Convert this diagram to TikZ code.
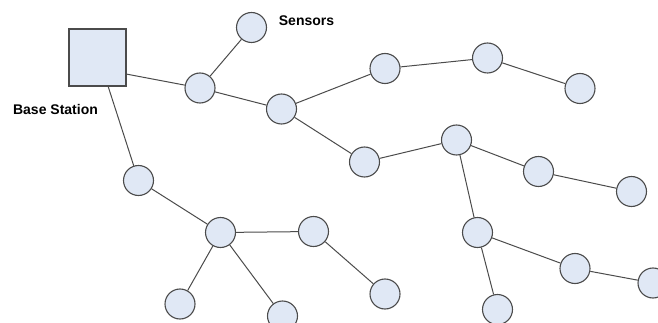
\documentclass[tikz,border=0pt]{standalone}
\usepackage{fontspec}
\setmainfont{Liberation Sans}
\definecolor{nodefill}{RGB}{224,232,245}
\definecolor{edgecol}{RGB}{75,75,75}
\begin{document}
\begin{tikzpicture}[x=1pt,y=-1pt,
  sensor/.style={circle,draw=edgecol,fill=nodefill,line width=1.1pt,minimum size=30pt,inner sep=0pt},
  basebox/.style={rectangle,draw=edgecol,fill=nodefill,line width=1.1pt,minimum size=57pt,inner sep=0pt},
  link/.style={draw=edgecol,line width=1pt},
  lbl/.style={font=\bfseries\fontsize{14}{16}\selectfont,inner sep=0pt}]
\useasboundingbox (0,0) rectangle (658,323);
\clip (0,0) rectangle (658,323);
\node[basebox] (bs) at (97.5,57.5) {};
\coordinate (bsE) at (126,74);
\coordinate (bsS) at (108,86);
\node[lbl] (bslbl) at (55.5,109) {Base Station};
\node[lbl] (senslbl) at (306.5,21) {Sensors};
\node[sensor] (s0) at (251.5,27.5) {};
\node[sensor] (n1) at (200,88) {};
\node[sensor] (n2) at (281.5,109) {};
\node[sensor] (n4) at (385,68.5) {};
\node[sensor] (n5) at (487.5,58) {};
\node[sensor] (n6) at (580,88.5) {};
\node[sensor] (n7) at (364.5,162) {};
\node[sensor] (n8) at (456.5,140) {};
\node[sensor] (n9) at (538.5,171.5) {};
\node[sensor] (n10) at (631.5,191.5) {};
\node[sensor] (n11) at (477.5,232.5) {};
\node[sensor] (n12) at (575,268.5) {};
\node[sensor] (n13) at (653,283) {};
\node[sensor] (n14) at (497.5,309.5) {};
\node[sensor] (n15) at (385,294) {};
\node[sensor] (n16) at (138.5,180.5) {};
\node[sensor] (n17) at (220.5,232.5) {};
\node[sensor] (n18) at (313.5,231.5) {};
\node[sensor] (n19) at (180,304) {};
\node[sensor] (n20) at (282.5,316) {};
\draw[link] (bsE) -- (n1);
\draw[link] (bsS) -- (n16);
\draw[link] (n1) -- (s0);
\draw[link] (n1) -- (n2);
\draw[link] (n2) -- (n4);
\draw[link] (n2) -- (n7);
\draw[link] (n4) -- (n5);
\draw[link] (n5) -- (n6);
\draw[link] (n7) -- (n8);
\draw[link] (n8) -- (n9);
\draw[link] (n9) -- (n10);
\draw[link] (n8) -- (n11);
\draw[link] (n11) -- (n12);
\draw[link] (n12) -- (n13);
\draw[link] (n11) -- (n14);
\draw[link] (n16) -- (n17);
\draw[link] (n17) -- (n18);
\draw[link] (n18) -- (n15);
\draw[link] (n17) -- (n19);
\draw[link] (n17) -- (n20);
\end{tikzpicture}
\end{document}
